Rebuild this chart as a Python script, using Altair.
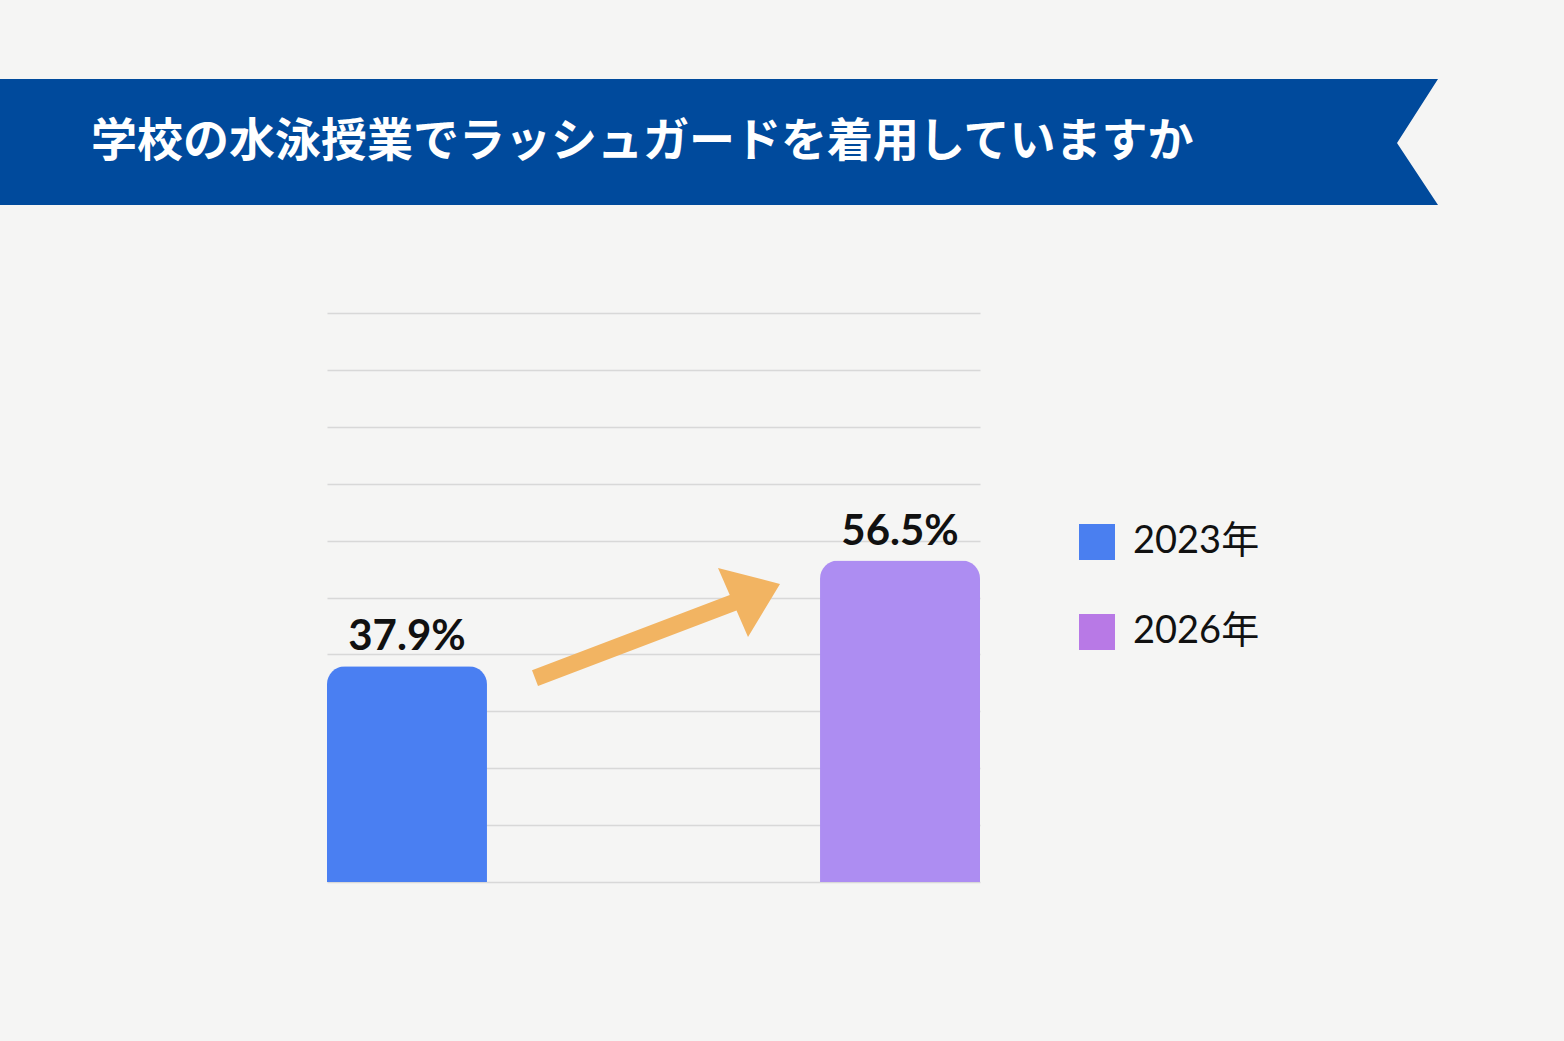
import altair as alt
import pandas as pd

# ---- data ----
years = ["2023年", "2026年"]
rates = [37.9, 56.5]
rate_labels = ["37.9%", "56.5%"]
bar_colors = ["#4a7ff2", "#ad8df2"]
legend_colors = ["#4a7ff0", "#b879e6"]
title_text = "学校の水泳授業でラッシュガードを着用していますか"
grid_values = list(range(0, 101, 10))

df = pd.DataFrame({"year": years, "rate": rates, "label": rate_labels})
one = pd.DataFrame({"k": [0]})

W, H = 653, 569
PAD = {"left": 327, "top": 313, "right": 1564 - 327 - W, "bottom": 1041 - 313 - H}
BG = "#f5f5f4"

x_enc = alt.X("year:N", sort=years, axis=None,
              scale=alt.Scale(paddingInner=0.6755, paddingOuter=0))
y_scale = alt.Scale(domain=[0, 100], nice=False, zero=True)

base = alt.Chart(df)

legend_layer = base.mark_square(size=1, filled=True, opacity=1).encode(
    x=x_enc,
    y=alt.value(H - 3),
    color=alt.Color(
        "year:N", sort=years,
        scale=alt.Scale(domain=years, range=legend_colors),
        legend=alt.Legend(
            title=None, orient="none", legendX=751, legendY=210,
            symbolType="square", symbolSize=1296, symbolStrokeWidth=0,
            symbolOpacity=1,
            labelFontSize=38, labelFont='Lato, "Noto Sans CJK JP"',
            labelColor="#111111", labelOffset=17, rowPadding=52, padding=0,
        ),
    ),
)

bars = base.mark_bar(cornerRadiusTopLeft=18, cornerRadiusTopRight=18).encode(
    x=x_enc,
    y=alt.Y("rate:Q", scale=y_scale,
            axis=alt.Axis(values=grid_values, grid=True, labels=False, ticks=False,
                          domain=False, title=None, gridColor="#d8d8d8", gridWidth=1.5)),
    color=alt.Color("year:N", sort=years,
                    scale=alt.Scale(domain=years, range=bar_colors), legend=None),
)

value_labels = base.mark_text(
    font="Lato", fontWeight="bold", fontSize=42, baseline="alphabetic", dy=-16,
    color="#111111"
).encode(
    x=x_enc,
    y=alt.Y("rate:Q", scale=y_scale),
    text="label:N",
)

arrow_path = ("M-0.992,0.345L0.590,-0.257L0.496,-0.472L0.992,-0.344"
              "L0.736,0.080L0.644,-0.132L-0.944,0.471Z")
arrow = alt.Chart(one).mark_point(
    shape=arrow_path, size=62500, filled=True, fill="#f2b462",
    strokeWidth=0, fillOpacity=1, opacity=1,
).encode(x=alt.value(656 - 327), y=alt.value(627 - 313))

banner_path = "M-1,-0.0876L1,-0.0876L0.943,0.0014L1,0.0876L-1,0.0876Z"
banner = alt.Chart(one).mark_point(
    shape=banner_path, size=1438 * 1438, filled=True, fill="#004a9c",
    strokeWidth=0, opacity=1,
).encode(x=alt.value(719 - 327), y=alt.value(142 - 313))

title = alt.Chart(one).mark_text(
    text=title_text, font="Noto Sans CJK JP", fontWeight="bold", fontSize=46,
    align="left", baseline="middle", color="#ffffff",
).encode(x=alt.value(91 - 327), y=alt.value(142 - 313))

chart = alt.layer(
    legend_layer, bars, value_labels, arrow, banner, title
).resolve_scale(color="independent").properties(
    width=W, height=H, padding=PAD,
    autosize=alt.AutoSizeParams(type="none"),
    background=BG,
).configure_view(strokeWidth=0)

chart.save("out.html", embed_options={"renderer": "svg", "actions": False})
